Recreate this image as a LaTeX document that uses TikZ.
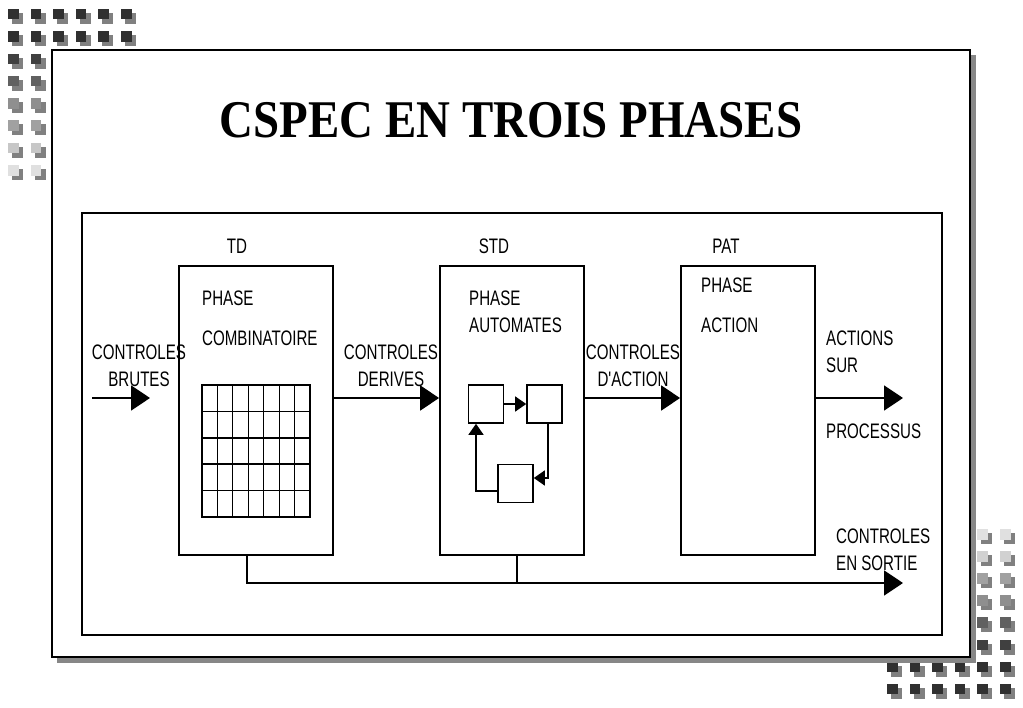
\documentclass[tikz,border=0pt]{standalone}
\usepackage{fontspec}
\setmainfont{Liberation Serif}
\newfontfamily\titrefont[FakeStretch=0.885]{Liberation Serif}
\newfontfamily\etroit[FakeStretch=0.72]{Liberation Sans}
\usetikzlibrary{arrows.meta}

\begin{document}
\begin{tikzpicture}[x=1pt,y=-1pt,
  phase/.style={draw,thick,line width=1.8pt,minimum width=#1,minimum height=289pt,inner sep=0pt},
  etat/.style={draw,line width=1.6pt,minimum width=35pt,minimum height=38pt,inner sep=0pt},
  label/.style={inner sep=0pt,font=\etroit\fontsize{21}{27}\selectfont},
  gros/.style={line width=1.8pt,-{Triangle[length=19pt,width=25pt]}},
  petit/.style={line width=1.4pt,-{Triangle[length=11pt,width=15pt]}}]
\useasboundingbox (0,0) rectangle (1023,708);
\fill[white] (0,0) rectangle (1023,708);

% petits carres
\foreach \j/\c in {0/81,1/81,2/75,3/62,4/44,5/37,6/22,7/12}
  \foreach \i in {0,...,5} {
    \ifnum\j>1 \ifnum\i>1 \breakforeach \fi\fi
    \fill[black!50] (12+22.6*\i,13+22.3*\j) rectangle +(11,11);
    \fill[black!\c] (8+22.6*\i,9+22.3*\j) rectangle +(10.5,10.5);
  }
\foreach \j/\c in {0/12,1/18,2/37,3/44,4/62,5/75,6/81,7/81}
  \foreach \i in {5,4,...,0} {
    \ifnum\j<6 \ifnum\i<4 \breakforeach \fi\fi
    \fill[black!50] (891+22.6*\i,533+22.1*\j) rectangle +(11,11);
    \fill[black!\c] (887+22.6*\i,529+22.1*\j) rectangle +(10.5,10.5);
  }

% cadre
\fill[black!47] (57,55) rectangle (976,663);
\draw[fill=white,line width=1.2pt] (52,50) rectangle (970,657);
\node (titre) at (511,120) {\titrefont\bfseries\fontsize{53}{60}\selectfont CSPEC EN TROIS PHASES};
\draw[line width=2.6pt] (82,213) rectangle (942,635);

\node[phase=154pt] (td) at (256,410.5) {};
\node[phase=144pt] (std) at (512,410.5) {};
\node[phase=134pt] (pat) at (748,410.5) {};

\begin{scope}[every node/.style={label}]
\node (nTD) at (237,246) {TD};
\node (nSTD) at (494,246) {STD};
\node (nPAT) at (726,246) {PAT};

\node[anchor=west] (tdA) at (202,298) {PHASE};
\node[anchor=west] (tdB) at (202,338) {COMBINATOIRE};
\node[anchor=west] (stdA) at (469,298) {PHASE};
\node[anchor=west] (stdB) at (469,325) {AUTOMATES};
\node[anchor=west] (patA) at (701,285) {PHASE};
\node[anchor=west] (patB) at (701,325) {ACTION};

\node[align=center] (brutes) at (139,365.5) {CONTROLES\\BRUTES};
\node[align=center] (derives) at (391,365.5) {CONTROLES\\DERIVES};
\node[align=center] (daction) at (633,365.5) {CONTROLES\\D'ACTION};
\node[anchor=west,align=left] (actions) at (826,352) {ACTIONS\\SUR};
\node[anchor=west] (processus) at (826,431) {PROCESSUS};
\node[anchor=west,align=left] (sortie) at (836,550) {CONTROLES\\EN SORTIE};
\end{scope}

% grille
\draw[line width=1.6pt] (202,385) rectangle (310,517);
\foreach \i in {1,...,6}
  \draw[line width=1.2pt] (202+15.43*\i,385) -- (202+15.43*\i,517);
\foreach \j in {1,...,4}
  \draw[line width=1.6pt] (202,385+26.4*\j) -- (310,385+26.4*\j);

% automates
\node[etat] (a1) at (486,404) {};
\node[etat] (a2) at (544.5,404) {};
\node[etat] (a3) at (515.5,483.5) {};
\draw[petit] (a1) -- (a2);
\draw[petit] ([xshift=3.5pt]a2.south) |- ([yshift=5.5pt]a3.east);
\draw[petit] ([yshift=-7.5pt]a3.west) -| ([xshift=-10pt]a1.south);

% fleches
\coordinate (inA) at (92,398);
\coordinate (inB) at (150,398);
\coordinate (outA) at (903,398);
\coordinate (outB) at (903,583);
\draw[gros] (inA) -- (inB);
\draw[gros] (td.east |- inA) -- (std.west |- inA);
\draw[gros] (std.east |- inA) -- (pat.west |- inA);
\draw[gros] (pat.east |- inA) -- (outA);
\draw[gros] ([xshift=-9pt]td.south) |- (outB);
\draw[line width=1.8pt] ([xshift=5pt]std.south) -- ([xshift=5pt]std.south |- outB);

\end{tikzpicture}
\end{document}
